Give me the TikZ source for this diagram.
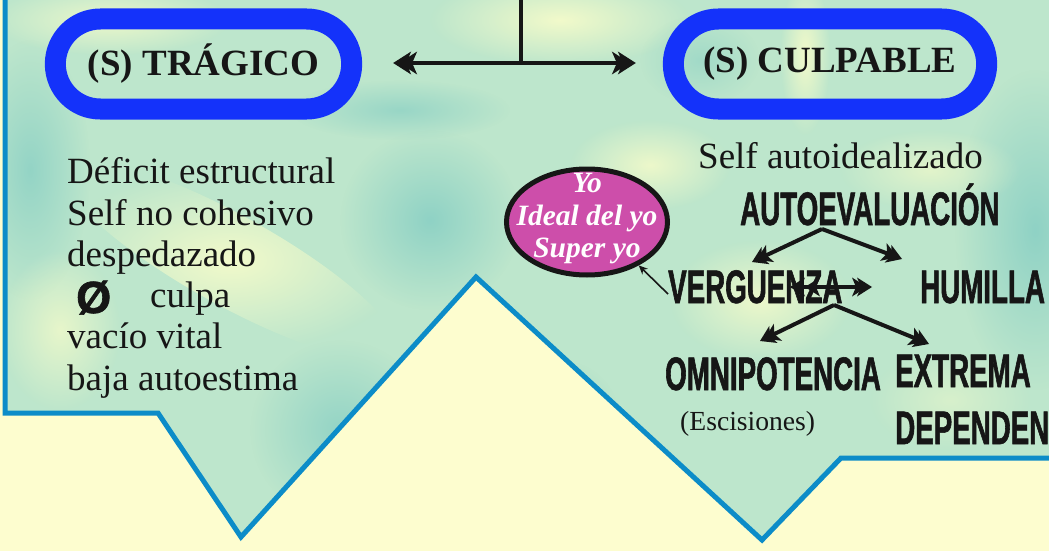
\documentclass[tikz,border=0pt]{standalone}
\usepackage{fontspec}
\setmainfont{Liberation Serif}
\newfontfamily\condfont[FakeStretch=0.59,FakeBold=1.2]{Liberation Sans Bold}
\newfontfamily\symfont[FakeBold=1.5]{Liberation Sans Bold}
\usetikzlibrary{shapes.misc,shapes.geometric,arrows.meta,fadings}
\definecolor{paper}{HTML}{FDFDCF}
\definecolor{mint}{HTML}{BDE6CC}
\definecolor{paleyel}{HTML}{F2FACA}
\definecolor{tealdark}{HTML}{8FD2C5}
\definecolor{edgeblue}{RGB}{12,140,200}
\definecolor{pillblue}{RGB}{20,50,250}
\definecolor{magen}{RGB}{205,78,170}
\definecolor{ink}{HTML}{161616}
\tikzfading[name=blob, inner color=transparent!0, outer color=transparent!100]
\begin{document}
\begin{tikzpicture}[x=1pt,y=-1pt,
  pill/.style={rounded rectangle, draw=pillblue, line width=21pt, minimum width=303pt, minimum height=90pt, text=ink, font=\fontsize{37}{40}\selectfont\bfseries},
  serifline/.style={anchor=base west, inner sep=0pt, text=ink, font=\fontsize{37}{40}\selectfont},
  cond/.style={anchor=base west, inner sep=0pt, text=ink, font=\fontsize{47}{48}\condfont},
  bigarrow/.style={draw=ink, line width=4.5pt, -{Stealth[length=18pt,width=23pt,inset=5pt,sep=-12pt,line width=0pt]Stealth[length=18pt,width=23pt,inset=5pt,line width=0pt]}},
  midarrow/.style={draw=ink, line width=4pt, -{Stealth[length=15pt,width=19pt,inset=4pt,sep=-10pt,line width=0pt]Stealth[length=15pt,width=19pt,inset=4pt,line width=0pt]}},
  midboth/.style={draw=ink, line width=4pt, {Stealth[length=15pt,width=19pt,inset=4pt,sep=-10pt,line width=0pt]Stealth[length=15pt,width=19pt,inset=4pt,line width=0pt]}-{Stealth[length=15pt,width=19pt,inset=4pt,sep=-10pt,line width=0pt]Stealth[length=15pt,width=19pt,inset=4pt,line width=0pt]}},
  thinarrow/.style={draw=ink, line width=1.6pt, -{Stealth[length=9pt,width=8pt]}},
  blobf/.style={path fading=blob}
]
\useasboundingbox (0,0) rectangle (1049,551);
\fill[paper] (0,0) rectangle (1049,551);
% textured region
\begin{scope}
\clip (5,-10) -- (5,413) -- (158,413) -- (241,537) -- (476,277) -- (762,540) -- (841,458) -- (1060,458) -- (1060,-10) -- cycle;
\fill[mint] (0,0) rectangle (1049,551);
\foreach \cx/\cy/\rx/\ry/\rot/\col/\op in {
  560/20/130/45/0/paleyel/1,
  110/20/120/35/0/paleyel/0.9,
  230/260/190/45/-29/paleyel/1,
  30/170/60/130/0/tealdark/0.9,
  430/220/90/90/0/tealdark/1,
  340/430/90/90/0/tealdark/0.9,
  1035/230/80/160/0/tealdark/1,
  805/55/25/80/0/paleyel/1,
  650/165/80/45/0/paleyel/0.9,
  760/300/90/60/0/paleyel/0.9,
  400/110/110/30/0/tealdark/0.8,
  700/60/60/45/0/tealdark/0.6,
  930/170/90/40/0/paleyel/0.7,
  560/420/60/60/0/tealdark/0.7,
  950/400/80/50/0/paleyel/0.5,
  60/330/60/80/0/paleyel/0.8}
  {\fill[\col, opacity=\op, blobf, shift={(\cx,\cy)}, rotate=\rot] (0,0) ellipse ({\rx} and {\ry});}
\end{scope}
\draw[edgeblue, line width=5pt, line join=miter] (5,-10) -- (5,413) -- (158,413) -- (241,537) -- (476,277) -- (762,540) -- (841,458) -- (1060,458);

% pills
\node[pill] (trag) at (203.5,64) {(S) TRÁGICO};
\node[pill, minimum width=320pt] (culp) at (830,64) {(S) CULPABLE};
\coordinate (top) at (521,-5);
\coordinate (junc) at (521,63);
\draw[ink, line width=4.5pt] (top) -- (junc);
\draw[bigarrow, shorten >=31pt] (junc) -- (junc -| trag.east);
\draw[bigarrow, shorten >=27pt] (junc) -- (junc -| culp.west);

% left texts
\node[serifline] (l1) at (67,183) {Déficit estructural};
\node[serifline] (l2) at (67,225) {Self no cohesivo};
\node[serifline] (l3) at (67,266) {despedazado};
\node[anchor=base west, inner sep=0pt, text=ink, font=\fontsize{45}{46}\symfont] (sym) at (76,313) {Ø};
\node[serifline] (l4) at (150,307) {culpa};
\node[serifline] (l5) at (67,348) {vacío vital};
\node[serifline] (l6) at (67,390) {baja autoestima};

% right texts
\node[serifline] (selfa) at (698,168) {Self autoidealizado};
\node[ellipse, draw=ink, line width=5pt, fill=magen, minimum width=161pt, minimum height=106pt, inner sep=0pt] (ego) at (587,222) {};
\node[align=center, text=white, inner sep=0pt, font=\fontsize{29.5}{32.5}\selectfont\bfseries\itshape] (egotxt) at (587,219) {Yo\\Ideal del yo\\Super yo};

\begin{scope}
\clip (0,0) rectangle (1049,551);
\node[cond] (auto) at (740,225) {AUTOEVALUACIÓN};
\node[cond] (verg) at (668,303) {VERGUENZA};
\node[cond] (humi) at (920,303) {HUMILLA};
\node[cond] (omni) at (665,390) {OMNIPOTENCIA};
\node[cond] (extr) at (895,387) {EXTREMA};
\node[cond] (depe) at (895,444) {DEPENDENC};
\end{scope}
\node[anchor=base west, inner sep=0pt, text=ink, font=\fontsize{27.6}{30}\selectfont] (esc) at (680,430) {(Escisiones)};

% arrows
\coordinate (autoF) at (822,229);
\coordinate (vergT) at (752,262);
\coordinate (humiT) at (902,259);
\coordinate (vF) at (834,305);
\coordinate (omniT) at (760,341);
\coordinate (extrT) at (929,344);
\coordinate (dl) at (800,287);
\coordinate (dr) at (872,287);
\coordinate (vergL) at (668,294);
\draw[midarrow] (autoF) -- (vergT);
\draw[midarrow] (autoF) -- (humiT);
\draw[midarrow] (vF) -- (omniT);
\draw[midarrow] (vF) -- (extrT);
\draw[midboth] (dl) -- (dr);
\draw[thinarrow] (vergL) -- (ego.-40);
\end{tikzpicture}
\end{document}
